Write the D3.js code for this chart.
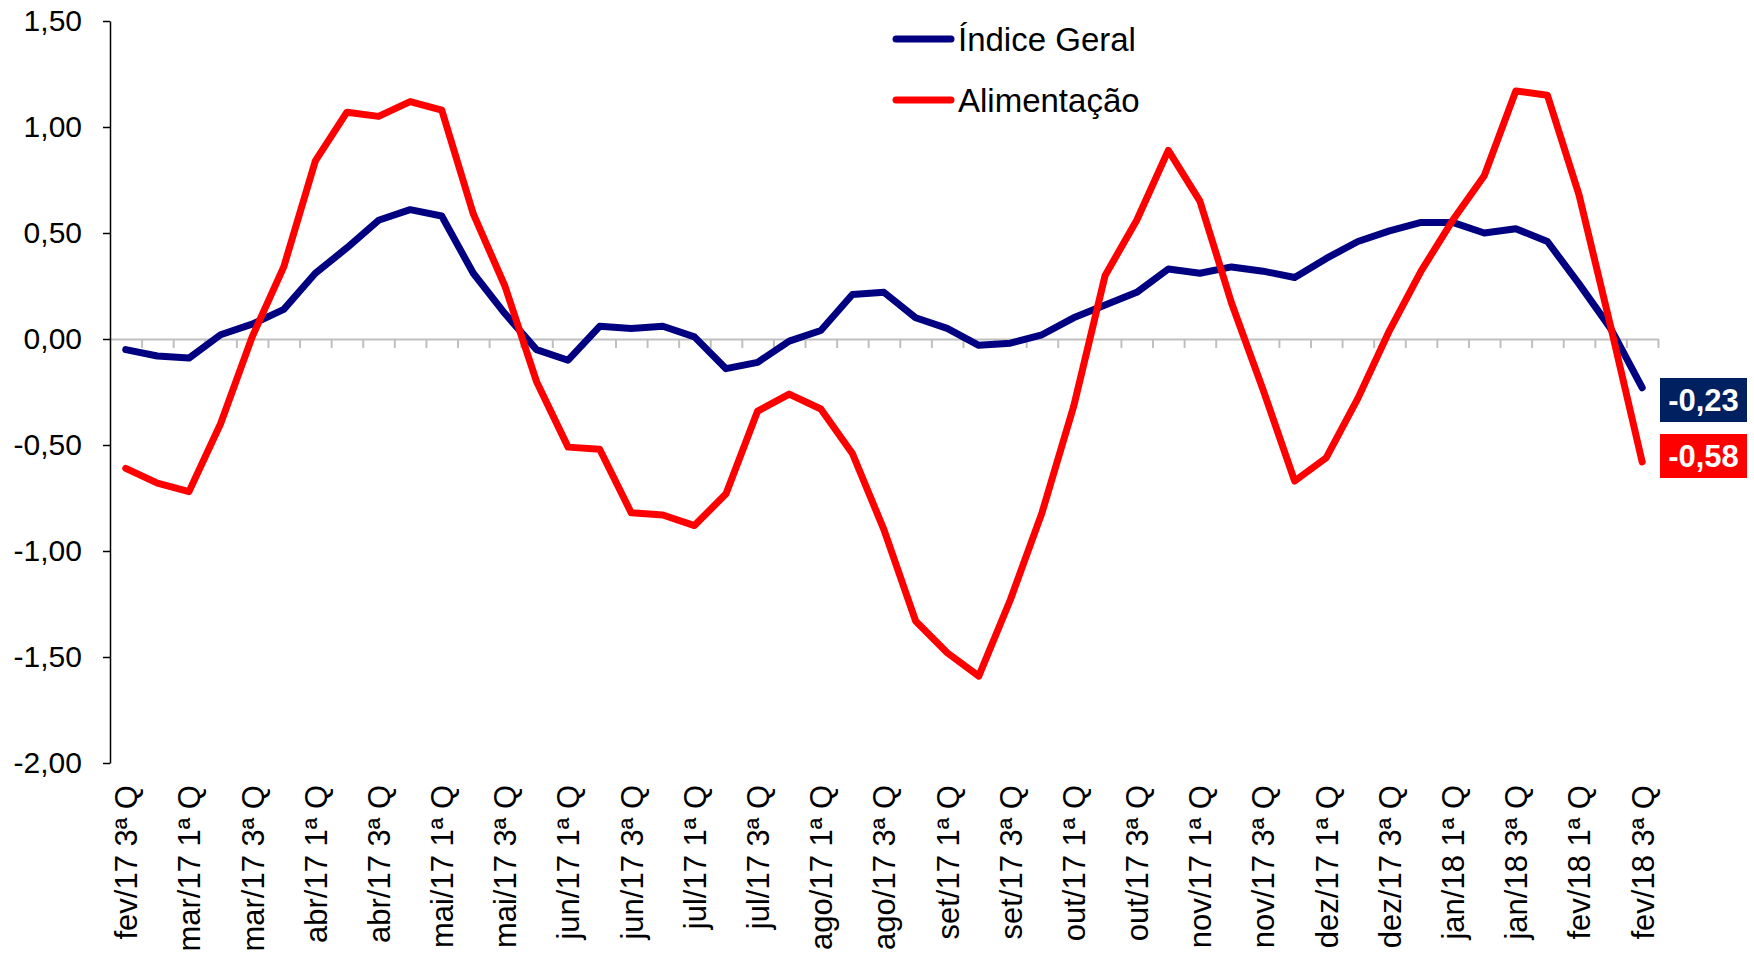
<!DOCTYPE html>
<html>
<head>
<meta charset="utf-8">
<script src="https://d3js.org/d3.v7.min.js"></script>
<style>
	body { margin: 0; background: #ffffff; }
	#chart_board text { font-family: Arial, "Liberation Sans", sans-serif; fill: #000000; }
	.zero_axis path, .zero_axis line { stroke: #bfbfbf; stroke-width: 2; }
	.y_axis path, .y_axis line { stroke: #000000; stroke-width: 1.5; }
	.line { fill: none; stroke-linejoin: round; stroke-linecap: round; }
</style>
</head>
<body>
<div id="chart_board"></div>
<script>

// quadrissemanas, fev/17 3a Q .. fev/18 3a Q
var months = ["fev/17","mar/17","abr/17","mai/17","jun/17","jul/17","ago/17",
	"set/17","out/17","nov/17","dez/17","jan/18","fev/18"];
var quads = ["1ª Q","2ª Q","3ª Q","4ª Q"];

var indice_geral = [-0.05,-0.08,-0.09,0.02,0.07,0.14,0.31,0.43,0.56,0.61,
	0.58,0.31,0.12,-0.05,-0.10,0.06,0.05,0.06,0.01,-0.14,
	-0.11,-0.01,0.04,0.21,0.22,0.10,0.05,-0.03,-0.02,0.02,
	0.10,0.16,0.22,0.33,0.31,0.34,0.32,0.29,0.38,0.46,
	0.51,0.55,0.55,0.50,0.52,0.46,0.26,0.05,-0.23];

var alimentacao = [-0.61,-0.68,-0.72,-0.40,0.01,0.34,0.84,1.07,1.05,1.12,
	1.08,0.59,0.25,-0.20,-0.51,-0.52,-0.82,-0.83,-0.88,-0.73,
	-0.34,-0.26,-0.33,-0.54,-0.90,-1.33,-1.48,-1.59,-1.23,-0.82,
	-0.32,0.30,0.56,0.89,0.65,0.17,-0.24,-0.67,-0.56,-0.28,
	0.04,0.32,0.56,0.77,1.17,1.15,0.68,0.06,-0.58];

var y_ticks = [-2.0,-1.5,-1.0,-0.5,0.0,0.5,1.0,1.5];

var series_names = ["Índice Geral","Alimentação"];
var series_colors = ["#000080","#ff0000"];
var last_box_colors = ["#002060","#ff0000"];


function build_categories(){
	// list every quadrissemana from fev/17 3a Q up to fev/18 3a Q
	var cats = [];
	var i, j;
	for (i = 0; i < months.length; i++){
		for (j = 0; j < quads.length; j++){
			if (i == 0 && j < 2) continue;
			if (i == months.length - 1 && j > 2) continue;
			cats.push(months[i] + " " + quads[j]);
		}
	}
	return cats;
}


function init(){
	render_chart("chart_board");
}


function render_chart(div_id){
	var categories = build_categories();
	var n = categories.length;
	var width = 1754, height = 953;
	var left = 110, right = 1658, top = 21, bottom = 763;

	var locale = d3.formatLocale({decimal: ",", thousands: ".", grouping: [3],
		currency: ["R$ ", ""], minus: "-"});
	var fmt = locale.format(".2f");

	var svg = d3.select("#" + div_id)
		.append("svg")
		.attr("width", width)
		.attr("height", height);

	var x = d3.scalePoint().domain(categories).range([left, right]).padding(0.5);
	var x_edge = d3.scaleLinear().domain([0, n]).range([left, right]);
	var y = d3.scaleLinear().domain([-2, 1.5]).range([bottom, top]);

	// zero line with the small category ticks
	svg.append("g")
		.attr("class", "zero_axis")
		.attr("transform", "translate(0," + y(0) + ")")
		.call(d3.axisBottom(x_edge)
			.tickValues(d3.range(1, n + 1))
			.tickSize(9)
			.tickSizeOuter(0)
			.tickFormat(""));

	// Y axis
	var y_axis = svg.append("g")
		.attr("class", "y_axis")
		.attr("transform", "translate(" + left + ",0)")
		.call(d3.axisLeft(y)
			.tickValues(y_ticks)
			.tickSize(7)
			.tickSizeOuter(0)
			.tickPadding(21)
			.tickFormat(fmt));
	y_axis.selectAll("text").style("font-size", "30px");

	// category labels, only 1a and 3a quadrissemana
	var shown = categories.filter(function(d){ return d.indexOf("1ª") >= 0 || d.indexOf("3ª") >= 0; });
	var x_axis = svg.append("g")
		.attr("transform", "translate(0,785)")
		.call(d3.axisBottom(x).tickValues(shown).tickSize(0));
	x_axis.select(".domain").remove();
	x_axis.selectAll("text")
		.attr("x", 0)
		.attr("y", 0)
		.attr("dy", "0.35em")
		.attr("transform", "rotate(-90)")
		.style("text-anchor", "end")
		.style("font-size", "31px");

	// the two lines
	var all_series = [indice_geral, alimentacao];
	var valueline = d3.line()
		.x(function(d, i){ return x(categories[i]); })
		.y(function(d){ return y(d); });
	var k;
	for (k = 0; k < all_series.length; k++){
		svg.append("path")
			.datum(all_series[k])
			.attr("class", "line")
			.attr("stroke", series_colors[k])
			.attr("stroke-width", 7)
			.attr("d", valueline);
	}

	// legend
	var legend_rows = [39, 100];
	for (k = 0; k < series_names.length; k++){
		var g = svg.append("g").attr("transform", "translate(0," + legend_rows[k] + ")");
		g.append("line")
			.attr("x1", 896).attr("x2", 951)
			.attr("y1", 0).attr("y2", 0)
			.attr("stroke", series_colors[k])
			.attr("stroke-width", 7)
			.attr("stroke-linecap", "round");
		g.append("text")
			.attr("x", 958)
			.attr("y", 0)
			.attr("dy", "0.35em")
			.style("font-size", "33px")
			.text(series_names[k]);
	}

	// boxes with the last value of each series
	var box_y = [378, 434];
	for (k = 0; k < all_series.length; k++){
		var last = all_series[k][all_series[k].length - 1];
		svg.append("rect")
			.attr("x", 1660).attr("y", box_y[k])
			.attr("width", 87).attr("height", 44)
			.attr("fill", last_box_colors[k]);
		svg.append("text")
			.attr("x", 1703.5).attr("y", box_y[k] + 22)
			.attr("dy", "0.35em")
			.attr("text-anchor", "middle")
			.style("font-size", "31px")
			.style("font-weight", "bold")
			.style("fill", "#ffffff")
			.text(fmt(last));
	}
}

window.onload = init;

</script>
</body>
</html>
